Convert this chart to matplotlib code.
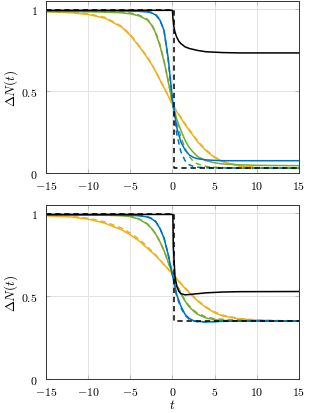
import matplotlib
matplotlib.use("Agg")
import matplotlib.pyplot as plt

plt.rcParams['mathtext.fontset'] = 'cm'
plt.rcParams['font.family'] = 'serif'
plt.rcParams['font.serif'] = ['DejaVu Serif']

BLUE = '#0072BD'
GREEN = '#77AC30'
ORANGE = '#EDB120'

t = [-15, -12, -10, -8, -6, -5, -4, -3, -2.5, -2, -1.5, -1, -0.5, 0,
     0.5, 1, 1.5, 2, 2.5, 3, 4, 5, 6, 8, 10, 12, 15]

# top panel
top_orange = [0.985, 0.978, 0.968, 0.945, 0.89, 0.84, 0.776, 0.705, 0.665, 0.62, 0.57, 0.52, 0.47, 0.42,
              0.375, 0.335, 0.295, 0.26, 0.225, 0.19, 0.135, 0.095, 0.068, 0.042, 0.033, 0.03, 0.028]
top_orange_d = [0.99, 0.982, 0.972, 0.95, 0.895, 0.845, 0.78, 0.71, 0.668, 0.622, 0.572, 0.522, 0.472, 0.42,
                0.378, 0.34, 0.3, 0.265, 0.23, 0.195, 0.14, 0.098, 0.07, 0.042, 0.033, 0.03, 0.028]
top_green = [0.985, 0.985, 0.984, 0.982, 0.978, 0.972, 0.96, 0.935, 0.905, 0.855, 0.78, 0.68, 0.56, 0.43,
             0.33, 0.26, 0.2, 0.155, 0.125, 0.1, 0.075, 0.062, 0.055, 0.05, 0.047, 0.046, 0.045]
top_green_d = [0.99, 0.99, 0.989, 0.987, 0.983, 0.977, 0.965, 0.94, 0.91, 0.86, 0.785, 0.685, 0.56, 0.43,
               0.31, 0.22, 0.15, 0.1, 0.07, 0.055, 0.04, 0.035, 0.032, 0.03, 0.03, 0.03, 0.03]
top_blue = [0.99, 0.99, 0.99, 0.99, 0.989, 0.988, 0.987, 0.983, 0.978, 0.965, 0.935, 0.87, 0.7, 0.45,
            0.28, 0.19, 0.14, 0.11, 0.095, 0.087, 0.08, 0.077, 0.075, 0.075, 0.075, 0.075, 0.075]
top_blue_d = [0.992, 0.992, 0.992, 0.992, 0.991, 0.99, 0.989, 0.986, 0.98, 0.968, 0.938, 0.87, 0.69, 0.44,
              0.24, 0.13, 0.075, 0.05, 0.04, 0.035, 0.032, 0.031, 0.03, 0.03, 0.03, 0.03, 0.03]
top_black_t = [-15, 0, 0.05, 0.15, 0.3, 0.5, 0.75, 1, 1.5, 2, 3, 4, 6, 8, 15]
top_black = [0.993, 0.993, 0.95, 0.9, 0.86, 0.83, 0.805, 0.79, 0.77, 0.76, 0.748, 0.74, 0.735, 0.733, 0.733]
top_step_t = [-15, 0.15, 0.15, 15]
top_step = [0.993, 0.993, 0.028, 0.028]

# bottom panel
bot_orange = [0.985, 0.978, 0.965, 0.94, 0.9, 0.87, 0.835, 0.79, 0.768, 0.745, 0.718, 0.69, 0.663, 0.635,
              0.605, 0.575, 0.547, 0.52, 0.495, 0.47, 0.43, 0.4, 0.38, 0.362, 0.355, 0.352, 0.35]
bot_orange_d = [0.99, 0.982, 0.97, 0.948, 0.91, 0.88, 0.845, 0.8, 0.775, 0.75, 0.72, 0.69, 0.663, 0.635,
                0.607, 0.578, 0.55, 0.523, 0.498, 0.474, 0.435, 0.405, 0.384, 0.365, 0.357, 0.353, 0.351]
bot_green = [0.99, 0.99, 0.989, 0.988, 0.985, 0.98, 0.965, 0.935, 0.91, 0.875, 0.83, 0.775, 0.705, 0.635,
             0.57, 0.515, 0.47, 0.435, 0.41, 0.39, 0.368, 0.358, 0.354, 0.351, 0.35, 0.35, 0.35]
bot_green_d = [0.993, 0.993, 0.992, 0.991, 0.988, 0.983, 0.968, 0.938, 0.912, 0.877, 0.83, 0.775, 0.705, 0.635,
               0.572, 0.518, 0.474, 0.44, 0.415, 0.396, 0.374, 0.364, 0.36, 0.356, 0.353, 0.351, 0.35]
bot_blue = [0.99, 0.99, 0.99, 0.99, 0.989, 0.988, 0.985, 0.978, 0.968, 0.95, 0.91, 0.85, 0.75, 0.63,
            0.51, 0.44, 0.39, 0.365, 0.352, 0.347, 0.345, 0.346, 0.348, 0.35, 0.35, 0.35, 0.35]
bot_blue_d = [0.993, 0.993, 0.993, 0.993, 0.992, 0.991, 0.988, 0.98, 0.97, 0.952, 0.912, 0.85, 0.75, 0.625,
              0.5, 0.43, 0.385, 0.36, 0.35, 0.346, 0.345, 0.347, 0.349, 0.35, 0.35, 0.35, 0.35]
bot_black_t = [-15, 0.05, 0.1, 0.3, 0.5, 0.75, 1, 1.5, 2, 3, 4, 6, 8, 15]
bot_black = [0.993, 0.993, 0.8, 0.62, 0.56, 0.53, 0.515, 0.508, 0.51, 0.515, 0.52, 0.525, 0.527, 0.528]
bot_step_t = [-15, 0.2, 0.2, 15]
bot_step = [0.993, 0.993, 0.35, 0.35]

xticks = [-15, -10, -5, 0, 5, 10, 15]
yticks = [0, 0.5, 1]

fig = plt.figure(figsize=(3.11, 4.14), dpi=100)
ax1 = fig.add_axes([0.148, 0.5797, 0.813, 0.4155])
ax2 = fig.add_axes([0.148, 0.0821, 0.813, 0.4203])

LW = 1.1
DASH = (0, (3.5, 2.5))

def draw(ax, o, od, g, gd, b, bd, bt, bk, st, sk):
    ax.plot(t, od, color=ORANGE, lw=LW, ls=DASH)
    ax.plot(t, o, color=ORANGE, lw=LW)
    ax.plot(t, gd, color=GREEN, lw=LW, ls=DASH)
    ax.plot(t, g, color=GREEN, lw=LW)
    ax.plot(t, bd, color=BLUE, lw=LW, ls=DASH)
    ax.plot(t, b, color=BLUE, lw=LW)
    ax.plot(bt, bk, color='black', lw=LW)
    ax.plot(st, sk, color='black', lw=LW, ls=DASH)
    ax.set_xlim(-15, 15)
    ax.set_ylim(0, 1.05)
    ax.set_xticks(xticks)
    ax.set_xticklabels(['$%d$' % v if v >= 0 else '$-%d$' % -v for v in xticks])
    ax.set_yticks(yticks)
    ax.set_yticklabels(['$0$', '$0.5$', '$1$'])
    ax.grid(True, color='#e3e3e3', lw=0.7)
    ax.set_axisbelow(True)
    ax.tick_params(direction='in', length=3, color='#bbbbbb', labelsize=8.5,
                   top=True, right=True)
    ax.tick_params(axis='x', pad=4)
    ax.tick_params(axis='y', pad=6)
    for s in ax.spines.values():
        s.set_linewidth(0.7)
        s.set_color('#333333')
    ax.set_ylabel(r'$\Delta N(t)$', fontsize=9.5, labelpad=1)

draw(ax1, top_orange, top_orange_d, top_green, top_green_d, top_blue, top_blue_d,
     top_black_t, top_black, top_step_t, top_step)
draw(ax2, bot_orange, bot_orange_d, bot_green, bot_green_d, bot_blue, bot_blue_d,
     bot_black_t, bot_black, bot_step_t, bot_step)
ax2.set_xlabel('$t$', fontsize=9.5, labelpad=0)

fig.savefig('out.png', dpi=100)
